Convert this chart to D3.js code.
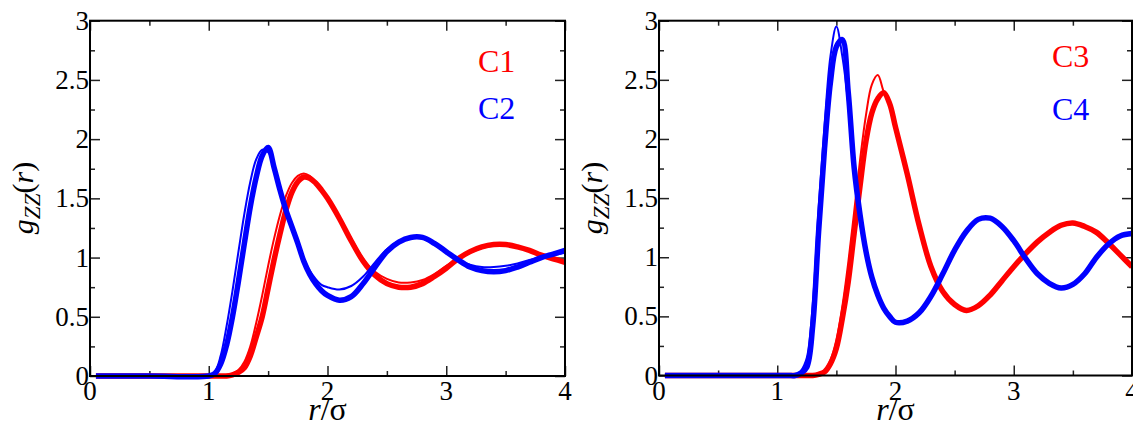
<!DOCTYPE html>
<html>
<head>
<meta charset="utf-8">
<script src="https://cdn.jsdelivr.net/npm/d3@7"></script>
</head>
<body style="margin:0">
<script>
// r/sigma sample points shared by every curve
const rGrid = [0.05, 0.5, 1.0, 1.05, 1.1, 1.15, 1.2, 1.25, 1.3, 1.35, 1.4, 1.45, 1.5, 1.55, 1.6, 1.65, 1.7, 1.75, 1.8, 1.85, 1.9, 1.95, 2.0,
  2.1, 2.2, 2.3, 2.4, 2.5, 2.6, 2.7, 2.8, 2.9, 3.0, 3.1, 3.2, 3.3, 3.4, 3.5, 3.6, 3.7, 3.8, 3.9, 4.0];

// left panel: C1 (red), C2 (blue)
const c1Thick = [0, 0, 0, 0, 0, 0, 0.01, 0.03, 0.07, 0.17, 0.33, 0.5, 0.74, 0.98, 1.2, 1.4, 1.55, 1.64, 1.68, 1.67, 1.63, 1.57, 1.5,
  1.33, 1.14, 0.97, 0.85, 0.78, 0.75, 0.75, 0.78, 0.84, 0.91, 0.99, 1.05, 1.09, 1.11, 1.11, 1.09, 1.06, 1.02, 0.99, 0.96];
const c1Thin = [0, 0, 0, 0, 0, 0.01, 0.02, 0.05, 0.12, 0.25, 0.45, 0.68, 0.93, 1.16, 1.36, 1.52, 1.63, 1.69, 1.71, 1.69, 1.64, 1.58, 1.51,
  1.34, 1.16, 0.99, 0.88, 0.82, 0.79, 0.79, 0.81, 0.86, 0.93, 0.99, 1.04, 1.08, 1.1, 1.1, 1.09, 1.06, 1.03, 1.0, 0.97];
const c2Thick = [0, 0, 0, 0.02, 0.1, 0.26, 0.5, 0.8, 1.12, 1.43, 1.68, 1.86, 1.93, 1.76, 1.57, 1.4, 1.26, 1.12, 0.97, 0.86, 0.78, 0.72, 0.68,
  0.64, 0.67, 0.78, 0.92, 1.05, 1.13, 1.17, 1.17, 1.12, 1.05, 0.98, 0.92, 0.89, 0.88, 0.89, 0.92, 0.96, 1.0, 1.03, 1.06];
const c2Thin = [0, 0, 0, 0.03, 0.17, 0.42, 0.72, 1.05, 1.37, 1.64, 1.83, 1.91, 1.89, 1.78, 1.6, 1.42, 1.27, 1.13, 0.99, 0.89, 0.82, 0.77, 0.75,
  0.73, 0.76, 0.84, 0.96, 1.07, 1.14, 1.17, 1.16, 1.11, 1.04, 0.98, 0.94, 0.92, 0.92, 0.93, 0.95, 0.98, 1.0, 1.02, 1.04];

// right panel: C3 (red), C4 (blue)
const c3Thick = [0, 0, 0, 0, 0, 0, 0, 0, 0, 0.01, 0.03, 0.1, 0.23, 0.48, 0.79, 1.2, 1.6, 1.98, 2.22, 2.34, 2.39, 2.3, 2.1,
  1.7, 1.27, 0.92, 0.71, 0.6, 0.55, 0.59, 0.68, 0.8, 0.92, 1.03, 1.13, 1.21, 1.27, 1.29, 1.26, 1.21, 1.12, 1.02, 0.92];
const c3Thin = [0, 0, 0, 0, 0, 0, 0, 0, 0, 0.01, 0.04, 0.13, 0.3, 0.58, 0.95, 1.38, 1.82, 2.2, 2.46, 2.54, 2.4, 2.3, 2.1,
  1.7, 1.27, 0.92, 0.71, 0.6, 0.55, 0.59, 0.68, 0.8, 0.92, 1.03, 1.13, 1.21, 1.27, 1.29, 1.26, 1.21, 1.12, 1.02, 0.92];
const c4Thick = [0, 0, 0, 0, 0, 0, 0.02, 0.07, 0.42, 1.22, 1.92, 2.48, 2.78, 2.84, 2.4, 1.76, 1.36, 1.05, 0.83, 0.68, 0.57, 0.5, 0.45,
  0.46, 0.53, 0.67, 0.86, 1.06, 1.22, 1.32, 1.33, 1.26, 1.14, 0.99, 0.86, 0.78, 0.74, 0.77, 0.86, 1.0, 1.11, 1.18, 1.2];
const c4Thin = [0, 0, 0, 0, 0, 0, 0.04, 0.15, 0.6, 1.42, 2.12, 2.7, 2.95, 2.7, 2.3, 1.72, 1.36, 1.05, 0.83, 0.68, 0.57, 0.5, 0.45,
  0.46, 0.53, 0.67, 0.86, 1.06, 1.22, 1.32, 1.33, 1.26, 1.14, 0.99, 0.86, 0.78, 0.74, 0.77, 0.86, 1.0, 1.11, 1.18, 1.2];

const xMajor = [0, 1, 2, 3, 4];
const xMinor = [0.5, 1.5, 2.5, 3.5];
const yMajor = [0, 0.5, 1, 1.5, 2, 2.5, 3];
const yMinor = [0.25, 0.75, 1.25, 1.75, 2.25, 2.75];

const RED = "#ff0000", BLUE = "#0000ff";

const panels = [
  {
    left: 90, right: 565, top: 20.7, bottom: 376,
    series: [
      { values: c1Thick, color: RED, width: 5.5 },
      { values: c1Thin, color: RED, width: 2 },
      { values: c2Thick, color: BLUE, width: 5.5 },
      { values: c2Thin, color: BLUE, width: 2 }
    ],
    legend: [
      { text: "C1", x: 478, y: 72, color: RED },
      { text: "C2", x: 478, y: 119, color: BLUE }
    ]
  },
  {
    left: 659, right: 1132, top: 20.7, bottom: 375.5,
    series: [
      { values: c3Thick, color: RED, width: 5.5 },
      { values: c3Thin, color: RED, width: 2 },
      { values: c4Thick, color: BLUE, width: 5.5 },
      { values: c4Thin, color: BLUE, width: 2 }
    ],
    legend: [
      { text: "C3", x: 1052, y: 67, color: RED },
      { text: "C4", x: 1052, y: 120, color: BLUE }
    ]
  }
];
panels.forEach(p => {
  p.x = d3.scaleLinear().domain([0, 4]).range([p.left, p.right]);
  p.y = d3.scaleLinear().domain([0, 3]).range([p.bottom, p.top]);
});

const svg = d3.select("body").append("svg")
  .attr("width", 1133)
  .attr("height", 432);

// all plain labels first, as direct children of the svg
const labels = [];
panels.forEach(p => {
  xMajor.forEach(v => labels.push({ t: String(v), x: p.x(v), y: p.bottom + 24, size: 27, anchor: "middle", fill: "#000" }));
  yMajor.forEach(v => labels.push({ t: String(v), x: p.left - 1, y: p.y(v) + 9, size: 27, anchor: "end", fill: "#000" }));
  p.legend.forEach(l => labels.push({ t: l.text, x: l.x, y: l.y, size: 32, anchor: "start", fill: l.color }));
});

svg.selectAll("text.lbl").data(labels).join("text")
  .attr("class", "lbl")
  .attr("x", d => d.x)
  .attr("y", d => d.y)
  .attr("text-anchor", d => d.anchor)
  .attr("fill", d => d.fill)
  .style("font-family", d => `"Liberation Serif"`)
  .style("font-size", d => d.size + "px")
  .text(d => d.t);

// axis titles
panels.forEach(p => {
  const xt = svg.append("text")
    .attr("x", p.x(2)).attr("y", 420)
    .attr("text-anchor", "middle")
    .style("font-family", `"Liberation Serif"`)
    .style("font-size", "32px");
  xt.append("tspan").attr("font-style", "italic").text("r");
  xt.append("tspan").text("/σ");

  const yt = svg.append("text")
    .attr("transform", `translate(${p.left - 57},198) rotate(-90)`)
    .attr("text-anchor", "middle")
    .style("font-family", `"Liberation Serif"`)
    .style("font-size", "30px");
  yt.append("tspan").attr("font-style", "italic").text("g");
  yt.append("tspan").attr("font-style", "italic").style("font-size", "23px").attr("dy", 7).text("ZZ");
  yt.append("tspan").attr("dy", -7).text("(");
  yt.append("tspan").attr("font-style", "italic").text("r");
  yt.append("tspan").text(")");
});

// graphics after the texts
panels.forEach(p => {
  const { x, y } = p;
  const g = svg.append("g");

  // ticks on all four sides, pointing inward
  const addTicks = (axis, transform) => {
    const a = g.append("g").attr("transform", transform).call(axis.tickFormat(""));
    a.attr("font-family", null).attr("font-size", null);
    a.select(".domain").remove();
    a.selectAll("text").remove();
    a.selectAll("line").attr("stroke", "#222").attr("stroke-width", 1.5);
  };
  addTicks(d3.axisBottom(x).tickValues(xMajor).tickSizeInner(-10).tickSizeOuter(0), `translate(0,${p.bottom})`);
  addTicks(d3.axisBottom(x).tickValues(xMinor).tickSizeInner(-5).tickSizeOuter(0), `translate(0,${p.bottom})`);
  addTicks(d3.axisTop(x).tickValues(xMajor).tickSizeInner(-10).tickSizeOuter(0), `translate(0,${p.top})`);
  addTicks(d3.axisTop(x).tickValues(xMinor).tickSizeInner(-5).tickSizeOuter(0), `translate(0,${p.top})`);
  addTicks(d3.axisLeft(y).tickValues(yMajor).tickSizeInner(-10).tickSizeOuter(0), `translate(${p.left},0)`);
  addTicks(d3.axisLeft(y).tickValues(yMinor).tickSizeInner(-5).tickSizeOuter(0), `translate(${p.left},0)`);
  addTicks(d3.axisRight(y).tickValues(yMajor).tickSizeInner(-10).tickSizeOuter(0), `translate(${p.right},0)`);
  addTicks(d3.axisRight(y).tickValues(yMinor).tickSizeInner(-5).tickSizeOuter(0), `translate(${p.right},0)`);

  const line = d3.line()
    .x(d => x(d[0]))
    .y(d => y(d[1]))
    .curve(d3.curveCatmullRom.alpha(0.5));

  p.series.forEach(s => {
    g.append("path")
      .datum(rGrid.map((r, i) => [r, s.values[i]]))
      .attr("d", line)
      .attr("fill", "none")
      .attr("stroke", s.color)
      .attr("stroke-width", s.width)
      .attr("stroke-linejoin", "round");
  });

  g.append("rect")
    .attr("x", p.left).attr("y", p.top)
    .attr("width", p.right - p.left).attr("height", p.bottom - p.top)
    .attr("fill", "none").attr("stroke", "#000").attr("stroke-width", 2);
});
</script>
</body>
</html>
